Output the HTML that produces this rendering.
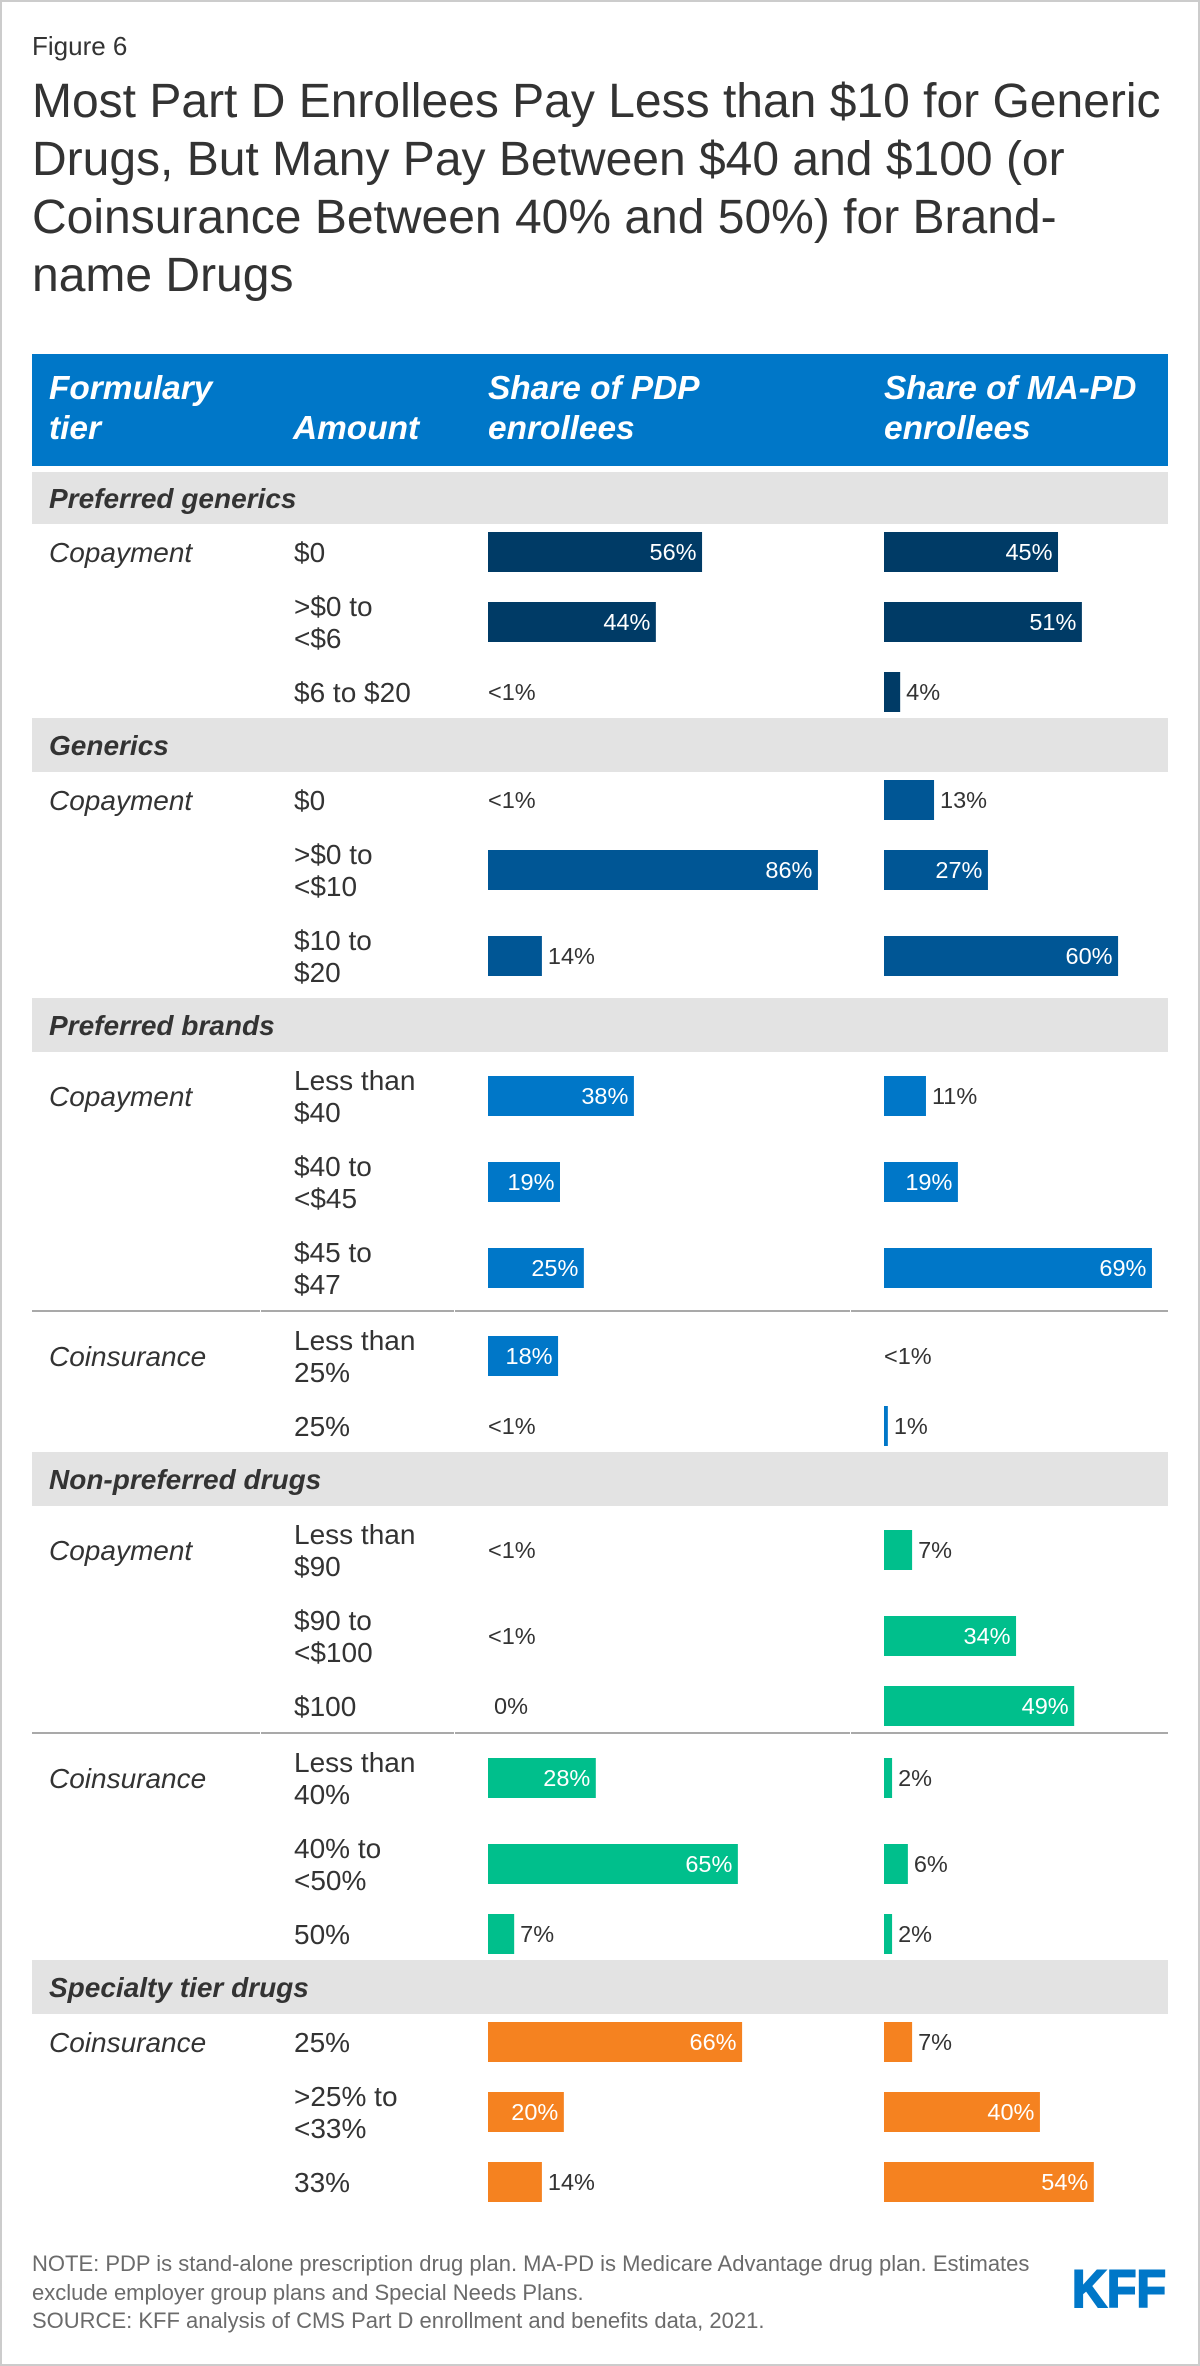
<!DOCTYPE html>
<html lang="en">
<head>
<meta charset="utf-8">
<title>Part D enrollee cost sharing by formulary tier</title>
<style>
html,body{margin:0;padding:0;background:#fff;}
body{width:1200px;height:2366px;overflow:hidden;}
svg{display:block;font-family:"Liberation Sans",Arial,sans-serif;}
.ttl{font-size:48px;fill:#333;}
.note{font-size:22px;fill:#6b6b6b;}
.hdr{font-size:33.4px;font-weight:bold;font-style:italic;fill:#fff;}
.sec{font-size:28px;font-weight:bold;font-style:italic;fill:#333;}
.kind{font-size:28px;font-style:italic;fill:#333;}
.amt{font-size:28px;fill:#333;}
.val{font-size:23.5px;fill:#333;}
.val.in{fill:#fff;}
</style>
</head>
<body>
<svg id="chart" xmlns="http://www.w3.org/2000/svg" width="1200" height="2366" viewBox="0 0 1200 2366">
  <rect x="1" y="1" width="1198" height="2364" fill="#fff" stroke="#ccc" stroke-width="2"/>
  <text x="32" y="55" font-size="26" fill="#333">Figure 6</text>
  <g>
    <text class="ttl" x="32" y="117">Most Part D Enrollees Pay Less than $10 for Generic</text>
    <text class="ttl" x="32" y="175">Drugs, But Many Pay Between $40 and $100 (or</text>
    <text class="ttl" x="32" y="233">Coinsurance Between 40% and 50%) for Brand-</text>
    <text class="ttl" x="32" y="291">name Drugs</text>
  </g>
  <g>
    <rect x="32" y="354" width="1136" height="112" fill="#0077c8"/>
    <text class="hdr" x="49" y="399">Formulary</text>
    <text class="hdr" x="49" y="439">tier</text>
    <text class="hdr" x="293" y="439">Amount</text>
    <text class="hdr" x="488" y="399">Share of PDP</text>
    <text class="hdr" x="488" y="439">enrollees</text>
    <text class="hdr" x="884" y="399">Share of MA-PD</text>
    <text class="hdr" x="884" y="439">enrollees</text>
  </g>
  <g id="table-body"></g>
  <g>
    <text class="note" x="32" y="2271">NOTE: PDP is stand-alone prescription drug plan. MA-PD is Medicare Advantage drug plan. Estimates</text>
    <text class="note" x="32" y="2300">exclude employer group plans and Special Needs Plans.</text>
    <text class="note" x="32" y="2328">SOURCE: KFF analysis of CMS Part D enrollment and benefits data, 2021.</text>
  </g>
  <text x="1072" y="2307" font-size="53" font-weight="bold" fill="#0077c8" stroke="#0077c8" stroke-width="2" stroke-linejoin="miter" textLength="94" lengthAdjust="spacingAndGlyphs">KFF</text>
</svg>
<script>
const sectionNames = ['Preferred generics', 'Generics', 'Preferred brands', 'Non-preferred drugs', 'Specialty tier drugs'];
const rowSection = [0, 0, 0, 1, 1, 1, 2, 2, 2, 2, 2, 3, 3, 3, 3, 3, 3, 4, 4, 4];
const rowKind = ['Copayment', 'Copayment', 'Copayment', 'Copayment', 'Copayment', 'Copayment', 'Copayment', 'Copayment', 'Copayment', 'Coinsurance', 'Coinsurance', 'Copayment', 'Copayment', 'Copayment', 'Coinsurance', 'Coinsurance', 'Coinsurance', 'Coinsurance', 'Coinsurance', 'Coinsurance'];
const rowAmount = ['$0', '>$0 to|<$6', '$6 to $20', '$0', '>$0 to|<$10', '$10 to|$20', 'Less than|$40', '$40 to|<$45', '$45 to|$47', 'Less than|25%', '25%', 'Less than|$90', '$90 to|<$100', '$100', 'Less than|40%', '40% to|<50%', '50%', '25%', '>25% to|<33%', '33%'];
const pdpValues = [55.6, 43.6, 0, 0, 85.7, 14, 37.9, 18.7, 24.9, 18.2, 0, 0, 0, 0, 28, 64.9, 6.8, 66, 19.7, 14];
const pdpLabels = ['56%', '44%', '<1%', '<1%', '86%', '14%', '38%', '19%', '25%', '18%', '<1%', '<1%', '<1%', '0%', '28%', '65%', '7%', '66%', '20%', '14%'];
const maValues = [45.2, 51.4, 4.2, 13, 27, 60.8, 10.9, 19.2, 69.6, 0, 1, 7.3, 34.3, 49.4, 2.1, 6.2, 2.1, 7.3, 40.5, 54.5];
const maLabels = ['45%', '51%', '4%', '13%', '27%', '60%', '11%', '19%', '69%', '<1%', '1%', '7%', '34%', '49%', '2%', '6%', '2%', '7%', '40%', '54%'];

const SVG_NS = 'http://www.w3.org/2000/svg';
const body = document.getElementById('table-body');
const pctScale = v => v * 3.85;
const PDP_X = 488;
const MA_X = 884;
const INSIDE_MIN = 15;

function sectionColor(i) {
  if (i === 0) return '#003b66';
  if (i === 1) return '#005695';
  if (i === 2) return '#0077c8';
  if (i === 3) return '#00bf8c';
  return '#f58220';
}
function make(tag, attrs, text) {
  const el = document.createElementNS(SVG_NS, tag);
  for (const k in attrs) el.setAttribute(k, attrs[k]);
  if (text !== undefined) el.textContent = text;
  body.appendChild(el);
  return el;
}
function slug(s) {
  return s.toLowerCase().replace(/[^a-z0-9]+/g, '-').replace(/^-|-$/g, '');
}
function drawRule(y) {
  const edges = [[32, 260], [261, 454], [455, 850], [851, 1168]];
  edges.forEach(function (e) {
    const rule = make('rect', { x: e[0], y: y, width: e[1] - e[0], height: 2, fill: '#a9a9a9' });
    
    
  });
}
function drawMeasure(series, x0, value, label, center, color, rowName) {
  const w = pctScale(value);
  const bar = make('rect', { x: x0, y: center - 20, width: w, height: 40, fill: color });
  
  
  const inside = value >= INSIDE_MIN;
  let lx, anchor, cls;
  if (inside) {
    lx = x0 + w - 5.5; anchor = 'end'; cls = 'val in';
  } else if (label.charAt(0) === '<') {
    lx = x0; anchor = 'start'; cls = 'val';
  } else {
    lx = x0 + w + 6; anchor = 'start'; cls = 'val';
  }
  const t = make('text', { x: lx, y: center + 8, 'text-anchor': anchor, class: cls }, label);
  
  
}

let y = 472;
let prevSection = -1;
let prevKind = '';
rowAmount.forEach(function (amount, i) {
  const sec = rowSection[i];
  if (sec !== prevSection) {
    const h = sec === 0 ? 52 : 54;
    const band = make('rect', { x: 32, y: y, width: 1136, height: h, fill: '#e3e3e3' });
    
    
    const st = make('text', { x: 49, y: y + h / 2 + 10, class: 'sec' }, sectionNames[sec]);
    
    
    y += h;
    prevKind = '';
    prevSection = sec;
  } else if (rowKind[i] !== prevKind) {
    drawRule(y);
    y += 2;
  }
  const lines = amount.split('|');
  const rowH = lines.length > 1 ? 86 : 54;
  const center = y + rowH / 2 + 1;
  const rowName = slug(sectionNames[sec]) + '-' + i;
  if (rowKind[i] !== prevKind) {
    const k = make('text', { x: 49, y: center + 10, class: 'kind' }, rowKind[i]);
    
    
    prevKind = rowKind[i];
  }
  lines.forEach(function (ln, j) {
    const by = lines.length > 1 ? center - 6 + j * 32 : center + 10;
    const a = make('text', { x: 294, y: by, class: 'amt' }, ln);
    
    
  });
  const color = sectionColor(sec);
  drawMeasure('pdp', PDP_X, pdpValues[i], pdpLabels[i], center, color, rowName);
  drawMeasure('mapd', MA_X, maValues[i], maLabels[i], center, color, rowName);
  y += rowH;
});
</script>
</body>
</html>
